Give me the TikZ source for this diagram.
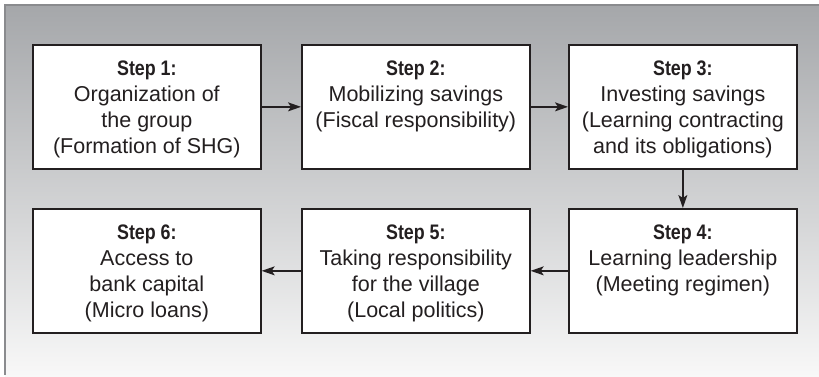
\documentclass[tikz,border=0pt]{standalone}
\usepackage{fontspec}
\setmainfont{Liberation Sans}
\newfontfamily\stepfont{Liberation Sans}[FakeStretch=0.85]
\usetikzlibrary{arrows.meta}
\definecolor{ink}{HTML}{231F20}
\definecolor{bgtop}{HTML}{A5A7AA}
\definecolor{bgbot}{HTML}{F8F8F8}
\definecolor{frame}{HTML}{8A8B8E}
\newcommand{\stephead}[1]{{\stepfont\bfseries\fontsize{21}{26}\selectfont Step #1:}}
\begin{document}
\begin{tikzpicture}[x=1pt,y=-1pt,
  box/.style={draw=ink, line width=1.7pt, fill=white, anchor=north west,
    minimum width=228pt, minimum height=124pt, inner sep=0pt},
  boxtext/.style={anchor=north, align=center, inner sep=0pt, text=ink,
    font=\fontsize{21.5}{26}\selectfont},
  flow/.style={draw=ink, line width=1.4pt, -{Stealth[length=13pt,width=9pt,inset=3pt]}}]
  \useasboundingbox (0,0) rectangle (819,377);
  % backdrop panel with vertical fade
  \shade[top color=bgtop, bottom color=bgbot] (5,5) rectangle (819,377);
  \draw[frame, line width=1.5pt] (5,375) -- (5,5) -- (819,5);

  % step boxes
  \node[box] (s1) at (32,44) {};
  \node[box] (s2) at (301,44) {};
  \node[box] (s3) at (568,44) {};
  \node[box] (s4) at (568,208) {};
  \node[box] (s5) at (301,208) {};
  \node[box] (s6) at (32,208) {};

  % box contents
  \node[boxtext] (t1) at ([yshift=-17pt]s1.north) {\stephead{1}\\Organization of\\the group\\(Formation of SHG)};
  \node[boxtext] (t2) at ([yshift=-17pt]s2.north) {\stephead{2}\\Mobilizing savings\\(Fiscal responsibility)};
  \node[boxtext] (t3) at ([yshift=-17pt]s3.north) {\stephead{3}\\Investing savings\\(Learning contracting\\and its obligations)};
  \node[boxtext] (t4) at ([yshift=-17pt]s4.north) {\stephead{4}\\Learning leadership\\(Meeting regimen)};
  \node[boxtext] (t5) at ([yshift=-17pt]s5.north) {\stephead{5}\\Taking responsibility\\for the village\\(Local politics)};
  \node[boxtext] (t6) at ([yshift=-17pt]s6.north) {\stephead{6}\\Access to\\bank capital\\(Micro loans)};

  % connectors
  \draw[flow] (s1.east) -- (s2.west);
  \draw[flow] (s2.east) -- (s3.west);
  \draw[flow] (s3.south) -- (s4.north);
  \draw[flow] (s4.west) -- (s5.east);
  \draw[flow] (s5.west) -- (s6.east);
\end{tikzpicture}
\end{document}
